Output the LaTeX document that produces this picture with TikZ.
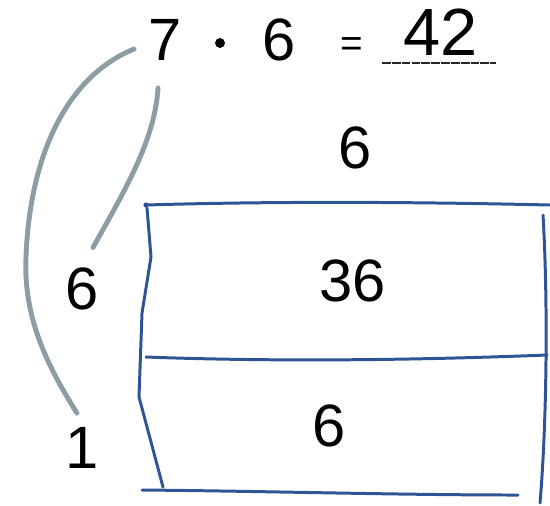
\documentclass[tikz,border=0pt]{standalone}
\usepackage{fontspec}
\setmainfont{Liberation Sans}
\usetikzlibrary{calc}

\definecolor{boxblue}{RGB}{45,85,150}
\definecolor{linkgray}{RGB}{140,158,164}

\begin{document}
\begin{tikzpicture}[x=0.02cm, y=-0.02cm,
  digit/.style={inner sep=0pt, font=\fontsize{34}{38}\selectfont},
  edge/.style={boxblue, line width=1.7pt, line cap=round, line join=round},
  link/.style={linkgray, line width=2.8pt, line cap=round}]
  \useasboundingbox (0,0) rectangle (550,505);
  % equation on top
  \node[digit] (seven) at (165,40) {7};
  \node[circle, fill=black, inner sep=2pt] (dotop) at (220,43) {};
  \node[digit] (sixa) at (279,40) {6};
  \node[inner sep=0pt, font=\fontsize{22}{24}\selectfont] (eq) at (352,47) {=};
  \node[digit, font=\fontsize{38}{42}\selectfont] (res) at (441,32) {42};
  \draw[black!85, line width=1.5pt, dash pattern=on 5pt off 0.6pt] (382,63) -- (496,63);
  % side lengths
  \node[digit] (sixtop) at (355,148) {6};
  \node[digit] (sixl) at (82,289) {6};
  \node[digit] (one) at (82,448) {1};
  % area model
  \fill[boxblue] (146,205) circle (2.6);
  \draw[edge] (146,205) .. controls (280,201) and (420,202) .. (550,205);
  \draw[edge] (147,208) -- (151,257) -- (142,313) -- (139,397) -- (163,487);
  \draw[edge] (146,357) .. controls (280,362) and (420,360) .. (547,355);
  \draw[edge] (142,490) .. controls (260,491) and (400,495) .. (518,495);
  \draw[edge] (543,215) .. controls (548,300) and (547,420) .. (540,503);
  \node[digit] (sq) at (353,281) {36};
  \node[digit] (rest) at (329,426) {6};
  % splitting 7 into 6 and 1
  \draw[link] ($(seven.west)+(-14,9)$) .. controls (70,75) and (30,150) .. (26,257)
    .. controls (23,320) and (50,370) .. ($(one.north)+(-5,-14)$);
  \draw[link] ($(seven.south)+(-7,27)$) .. controls (155,140) and (125,190) .. ($(sixl.north)+(11,-20)$);
\end{tikzpicture}
\end{document}
